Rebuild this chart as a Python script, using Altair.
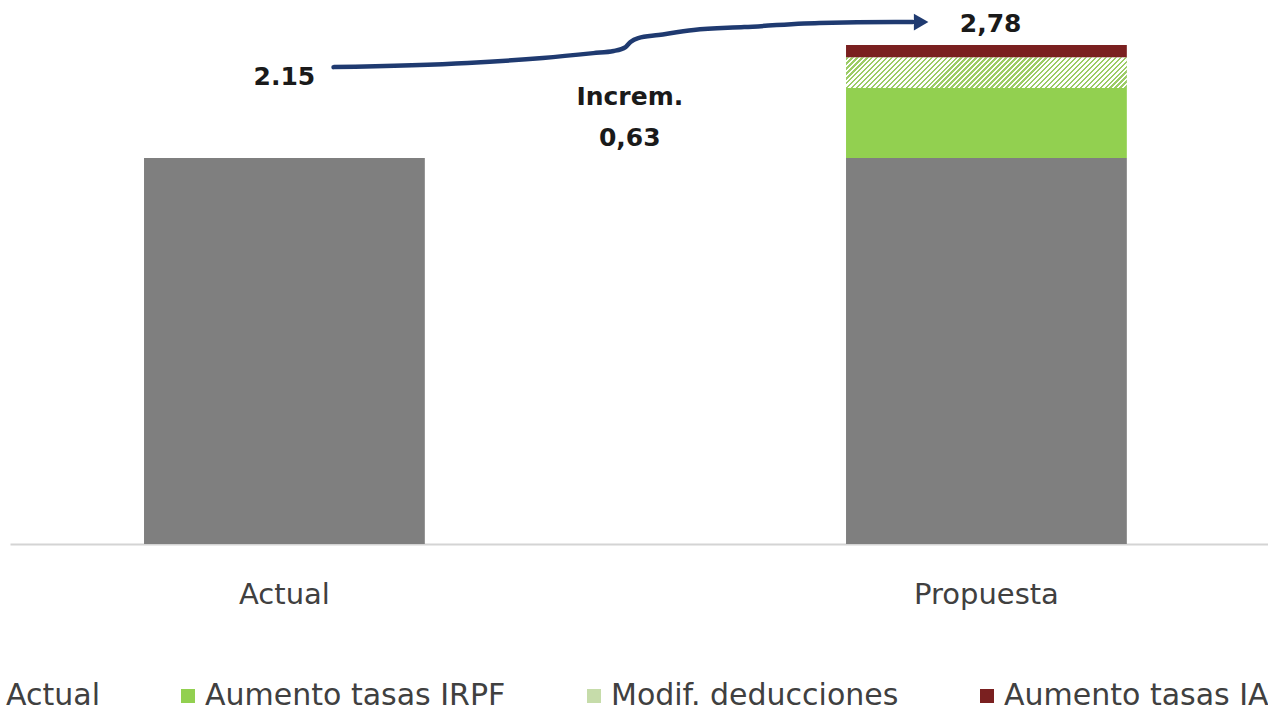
import altair as alt
import pandas as pd

# ---- data -------------------------------------------------------------
categories = ["Actual", "Propuesta"]
series = ["Actual", "Aumento tasas IRPF", "Modif. deducciones", "Aumento tasas IA"]
actual_value = 2.15
increments = [0.39, 0.17, 0.07]          # IRPF, deducciones, IA

# arrow path: position along the category axis (0 = "Actual", 1 = "Propuesta")
arrow_pos = [0.070, 0.261, 0.368, 0.440, 0.469, 0.486, 0.493, 0.504,
             0.533, 0.583, 0.655, 0.762, 0.870, 0.895]
arrow_val = [2.657, 2.680, 2.708, 2.735, 2.747, 2.769, 2.797, 2.819,
             2.836, 2.864, 2.880, 2.903, 2.908, 2.908]

# ---- styles / layout ---------------------------------------------------
series_colors = ["#7f7f7f", "#92d050", "#c6dcaa", "#7a2020"]
hatch_green = "#9ccc66"
arrow_color = "#1f3a70"
FONT = "DejaVu Sans"

PLOT_W, PLOT_H = 1258, 544
Y_MAX = 3.031
PAD_INNER, PAD_OUTER, ALIGN = 0.6, 0.196, 0.487

step = PLOT_W / (len(categories) - PAD_INNER + 2 * PAD_OUTER)
band_w = step * (1 - PAD_INNER)
first_center = (PLOT_W - step * (len(categories) - PAD_INNER)) * ALIGN + band_w / 2
pos_domain = [-first_center / step, (PLOT_W - first_center) / step]

# ---- tables ------------------------------------------------------------
bar_rows = [{"category": "Actual", "series": "Actual", "value": actual_value, "order": 0},
            {"category": "Propuesta", "series": "Actual", "value": actual_value, "order": 0}]
for i, (name, inc) in enumerate(zip(series[1:], increments), start=1):
    bar_rows.append({"category": "Propuesta", "series": name, "value": inc, "order": i})
bars_df = pd.DataFrame(bar_rows)

total = actual_value + sum(increments)
label_df = pd.DataFrame({
    "text": [f"{actual_value:.2f}",
             f"{total:.2f}".replace(".", ","),
             "Increm.",
             f"{sum(increments):.2f}".replace(".", ",")],
    "pos": [0.0, 1.006, 0.492, 0.492],
    "val": [2.557, 2.852, 2.446, 2.217],
})
arrow_df = pd.DataFrame({"pos": arrow_pos, "val": arrow_val, "i": range(len(arrow_pos))})
head_df = pd.DataFrame({"pos": [arrow_pos[-1] + 0.012], "val": [arrow_val[-1]]})

# ---- scales ------------------------------------------------------------
x_band = alt.Scale(domain=categories, paddingInner=PAD_INNER,
                   paddingOuter=PAD_OUTER, align=ALIGN)
x_pos = alt.Scale(domain=pos_domain, nice=False, zero=False)
y_scale = alt.Scale(domain=[0, Y_MAX], nice=False, zero=True)

# diagonal stripes for the "Modif. deducciones" segment
seg_h = increments[1] * PLOT_H / Y_MAX
ratio = seg_h / band_w
k = 1.12
span_px = k * band_w * (1 + ratio ** 2)
n_stripes = int(round(span_px / 5.0))
stops = []
for i in range(n_stripes):
    a, b, c = i / n_stripes, (i + 0.5) / n_stripes, (i + 1) / n_stripes
    stops += [alt.GradientStop(offset=a, color=hatch_green),
              alt.GradientStop(offset=b, color=hatch_green),
              alt.GradientStop(offset=b, color="#ffffff"),
              alt.GradientStop(offset=c, color="#ffffff")]
hatch_fill = alt.LinearGradient(gradient="linear", stops=stops,
                                x1=0, y1=0, x2=k, y2=k * ratio)

# ---- marks -------------------------------------------------------------
base = alt.Chart(bars_df).transform_stack(
    stack="value", groupby=["category"], as_=["v0", "v1"],
    sort=[alt.SortField("order", order="ascending")],
)

x_enc = alt.X("category:N", scale=x_band, sort=categories, title=None,
              axis=alt.Axis(labelAngle=0, ticks=False, tickSize=0, labelPadding=36,
                            labelFont=FONT, labelFontSize=29, labelColor="#404040",
                            domainColor="#d4d4d4", domainWidth=2, grid=False))

bars = base.mark_bar(strokeWidth=0).encode(
    x=x_enc,
    y=alt.Y("v0:Q", scale=y_scale, axis=None),
    y2="v1:Q",
    color=alt.Color("series:N", scale=alt.Scale(domain=series, range=series_colors),
                    legend=alt.Legend(title=None, orient="none", legendX=-36, legendY=681,
                                      direction="horizontal", symbolType="square",
                                      symbolSize=196, symbolStrokeWidth=0,
                                      labelFont=FONT, labelFontSize=30,
                                      labelColor="#404040", labelOffset=2,
                                      columnPadding=73, padding=0, labelLimit=0)),
)

hatch = base.transform_filter(alt.datum.series == series[2]).mark_bar(
    fill=hatch_fill, strokeWidth=0
).encode(x=x_enc, y=alt.Y("v0:Q", scale=y_scale, axis=None), y2="v1:Q")

arrow = alt.Chart(arrow_df).mark_line(
    color=arrow_color, strokeWidth=4.5, interpolate="monotone", strokeCap="round"
).encode(
    x=alt.X("pos:Q", scale=x_pos, axis=None),
    y=alt.Y("val:Q", scale=y_scale, axis=None),
    order="i:Q",
)

head = alt.Chart(head_df).mark_point(
    shape="triangle-right", filled=True, size=280, color=arrow_color, opacity=1
).encode(
    x=alt.X("pos:Q", scale=x_pos, axis=None),
    y=alt.Y("val:Q", scale=y_scale, axis=None),
)

labels = alt.Chart(label_df).mark_text(
    font=FONT, fontWeight="bold", fontSize=25, color="#1a1a1a",
    align="center", baseline="alphabetic"
).encode(
    x=alt.X("pos:Q", scale=x_pos, axis=None),
    y=alt.Y("val:Q", scale=y_scale, axis=None),
    text="text:N",
)

columns_layer = alt.layer(bars, hatch)
notes_layer = alt.layer(arrow, head, labels)

chart = alt.layer(columns_layer, notes_layer).resolve_scale(
    x="independent"
).properties(
    width=PLOT_W, height=PLOT_H,
    autosize=alt.AutoSizeParams(type="none"),
    padding={"left": 10, "top": 0, "right": 0, "bottom": 721 - PLOT_H},
    background="#ffffff",
).configure_view(stroke=None)

chart.save("out.html", embed_options={"renderer": "svg", "actions": False})
